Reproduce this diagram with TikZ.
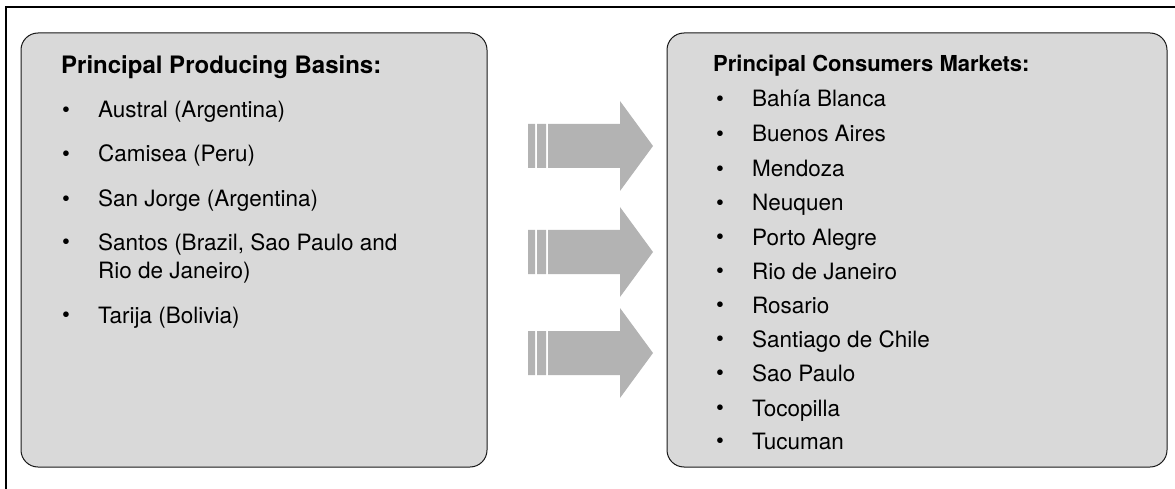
\documentclass[tikz,border=0pt]{standalone}
\usepackage{fontspec}
\setmainfont{TeX Gyre Heros}
\usetikzlibrary{positioning}
\definecolor{boxgray}{RGB}{217,217,217}
\definecolor{arrowgray}{RGB}{179,179,179}
\tikzset{
  basin/.style={draw=black!90, line width=1pt, fill=boxgray, rounded corners=17pt, inner sep=0pt},
  blockarrow/.style={fill=arrowgray, draw=none},
  heading/.style={anchor=base west, inner sep=0pt, font=\fontsize{24}{28}\selectfont\bfseries},
  entry/.style={anchor=base west, inner sep=0pt, align=left, font=\fontsize{22.5}{28}\selectfont}
}
\newcommand{\bul}{\makebox[36pt][l]{\raisebox{0.5pt}{\textbullet}}}
\begin{document}
\begin{tikzpicture}[x=1pt,y=-1pt]
\useasboundingbox (0,0) rectangle (1175,489);
%Shape: Frame
\draw [line width=1.2pt] (6,7) rectangle (1200,520);

%Shape: Rounded Rect [producing basins]
\node [basin, minimum width=466pt, minimum height=434pt] (basins) at (254,250) {};
%Shape: Rounded Rect [consumer markets]
\node [basin, minimum width=500pt, minimum height=434pt] (markets) at (917,250) {};

%Shape: Right Arrow [upper]
\fill [blockarrow] (528,124) rectangle (535,168) (537,124) rectangle (546,168);
\fill [blockarrow] (548,124) -- (620,124) -- (620,101) -- (653,146) -- (620,191) -- (620,168) -- (548,168) -- cycle;
%Shape: Right Arrow [middle]
\fill [blockarrow] (528,230) rectangle (535,274) (537,230) rectangle (546,274);
\fill [blockarrow] (548,230) -- (620,230) -- (620,207) -- (653,252) -- (620,297) -- (620,274) -- (548,274) -- cycle;
%Shape: Right Arrow [lower]
\fill [blockarrow] (528,331) rectangle (535,375) (537,331) rectangle (546,375);
\fill [blockarrow] (548,331) -- (620,331) -- (620,308) -- (653,353) -- (620,398) -- (620,375) -- (548,375) -- cycle;

% Text Node
\node [heading] (basinstitle) at (61,74) {Principal Producing Basins:};
% Text Node
\node [entry] (austral) at (62,118) {\bul Austral (Argentina)};
% Text Node
\node [entry] (camisea) at (62,162) {\bul Camisea (Peru)};
% Text Node
\node [entry] (sanjorge) at (62,207) {\bul San Jorge (Argentina)};
% Text Node (base is on its last line)
\node [entry] (santos) at (62,278) {\bul Santos (Brazil, Sao Paulo and\\\hspace*{36pt}Rio de Janeiro)};
% Text Node
\node [entry] (tarija) at (62,323) {\bul Tarija (Bolivia)};

% Text Node
\node [heading, font=\fontsize{22}{28}\selectfont\bfseries] (marketstitle) at (713,72) {Principal Consumers Markets:};
% Text Node
\node [entry] (bahia) at (716,107) {\bul Bahía Blanca};
% Text Node
\node [entry] (buenos) at (716,142) {\bul Buenos Aires};
% Text Node
\node [entry] (mendoza) at (716,177) {\bul Mendoza};
% Text Node
\node [entry] (neuquen) at (716,211) {\bul Neuquen};
% Text Node
\node [entry] (porto) at (716,245) {\bul Porto Alegre};
% Text Node
\node [entry] (rio) at (716,279) {\bul Rio de Janeiro};
% Text Node
\node [entry] (rosario) at (716,313) {\bul Rosario};
% Text Node
\node [entry] (santiago) at (716,347) {\bul Santiago de Chile};
% Text Node
\node [entry] (saopaulo) at (716,381) {\bul Sao Paulo};
% Text Node
\node [entry] (tocopilla) at (716,416) {\bul Tocopilla};
% Text Node
\node [entry] (tucuman) at (716,449) {\bul Tucuman};

\end{tikzpicture}
\end{document}
